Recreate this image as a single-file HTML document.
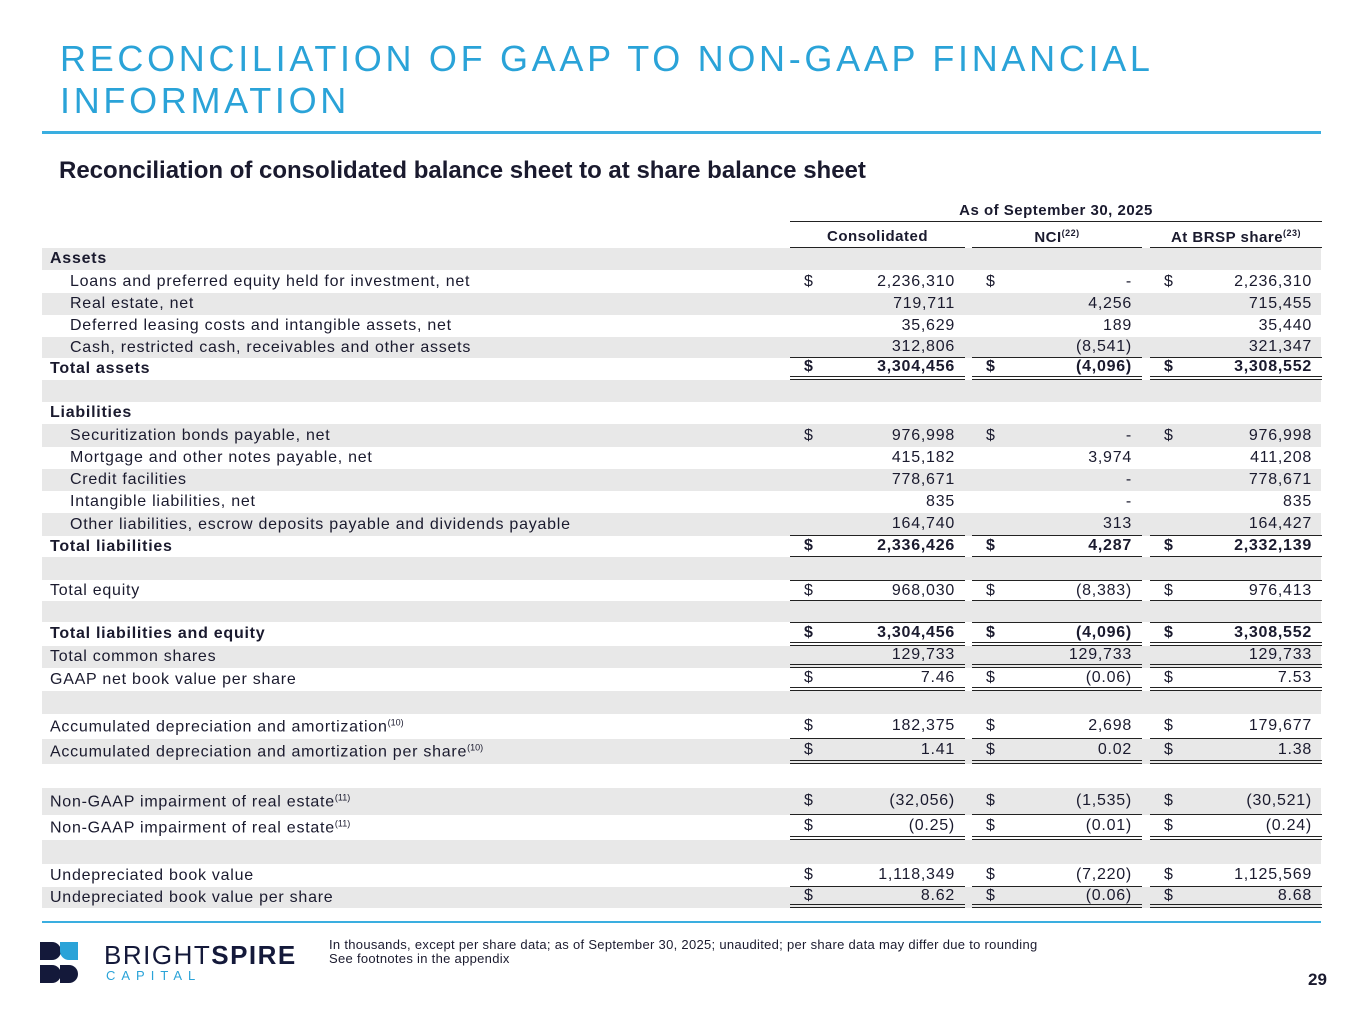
<!DOCTYPE html>
<html><head><meta charset="utf-8">
<style>
*{margin:0;padding:0;box-sizing:border-box}
body{width:1365px;height:1024px;background:#fff;font-family:"Liberation Sans",sans-serif;color:#1a1a2e;position:relative;overflow:hidden}
.title{position:absolute;left:60px;top:38px;font-size:36px;letter-spacing:3.7px;color:#2aa3d8;line-height:42px;font-weight:normal;white-space:nowrap}
.rule{position:absolute;left:42px;width:1279px;height:3px;background:#3aaee0}
.sub{position:absolute;left:59px;top:157px;font-size:24px;font-weight:bold;color:#1a1a2e;white-space:nowrap}
.row{position:absolute;left:42px;width:1279px;font-size:16px;letter-spacing:0.75px}
.row.g{background:#e8e8e8}
.lbl{position:absolute;top:50%;transform:translateY(-50%);white-space:nowrap}
.lbl sup{font-size:9px;letter-spacing:0}
.cell{position:absolute;top:0;height:100%}
.cell .d{position:absolute;left:14px;top:50%;transform:translateY(-50%)}
.cell .v{position:absolute;right:10px;top:50%;transform:translateY(-50%)}
.b{font-weight:bold}
.st{border-top:1.5px solid #222}
.sb{border-bottom:1.5px solid #222}
.db{border-bottom:4px double #222}
.hdr{position:absolute;font-size:15px;font-weight:bold;text-align:center;letter-spacing:0.5px}
.foot{position:absolute;left:329px;top:938px;font-size:13px;line-height:14px;letter-spacing:0.3px;white-space:nowrap}
</style></head><body>
<div class="title">RECONCILIATION OF GAAP TO NON-GAAP FINANCIAL<br>INFORMATION</div>
<div class="rule" style="top:131px"></div>
<div class="sub">Reconciliation of consolidated balance sheet to at share balance sheet</div>
<div class="hdr" style="left:790px;top:202px;width:532px;height:20px;border-bottom:1.5px solid #222">As of September 30, 2025</div>
<div class="hdr" style="left:790px;top:228px;width:175px;height:20px;border-bottom:1.5px solid #222">Consolidated</div>
<div class="hdr" style="left:972px;top:228px;width:170px;height:20px;border-bottom:1.5px solid #222">NCI<sup style="font-size:9px">(22)</sup></div>
<div class="hdr" style="left:1150px;top:228px;width:172px;height:20px;border-bottom:1.5px solid #222">At BRSP share<sup style="font-size:9px">(23)</sup></div>
<div id="tbl"></div>
<div class="rule" style="top:921px;height:2px"></div>
<div style="position:absolute;left:40px;top:942px;width:260px;height:45px">
<svg width="60" height="42" viewBox="0 0 60 42"><path d="M0 0h12a9 9 0 0 1 0 18H0z" fill="#14193a"/><path d="M20 0h18v18H29a9 9 0 0 1-9-9z" fill="#2aa3d8"/><path d="M0 23h12a9 9 0 0 1 0 18H0z" fill="#14193a"/><path d="M20 23h9a9 9 0 0 1 0 18h-9z" fill="#14193a"/></svg>
<div style="position:absolute;left:64px;top:-2px;font-size:26px;letter-spacing:1.5px;color:#14193a;white-space:nowrap">BRIGHT<b>SPIRE</b></div>
<div style="position:absolute;left:66px;top:26px;font-size:13px;letter-spacing:6px;color:#2aa3d8">CAPITAL</div>
</div>
<div class="foot">In thousands, except per share data; as of September 30, 2025; unaudited; per share data may differ due to rounding<br>See footnotes in the appendix</div>
<div style="position:absolute;left:1308px;top:970px;font-size:17px;font-weight:bold">29</div>
<script>
const rowLabels=["Assets","Loans and preferred equity held for investment, net","Real estate, net","Deferred leasing costs and intangible assets, net","Cash, restricted cash, receivables and other assets","Total assets","","Liabilities","Securitization bonds payable, net","Mortgage and other notes payable, net","Credit facilities","Intangible liabilities, net","Other liabilities, escrow deposits payable and dividends payable","Total liabilities","","Total equity","","Total liabilities and equity","Total common shares","GAAP net book value per share","","Accumulated depreciation and amortization<sup>(10)</sup>","Accumulated depreciation and amortization per share<sup>(10)</sup>","","Non-GAAP impairment of real estate<sup>(11)</sup>","Non-GAAP impairment of real estate<sup>(11)</sup>","","Undepreciated book value","Undepreciated book value per share"];
const consolidated=[null,"2,236,310","719,711","35,629","312,806","3,304,456",null,null,"976,998","415,182","778,671","835","164,740","2,336,426",null,"968,030",null,"3,304,456","129,733","7.46",null,"182,375","1.41",null,"(32,056)","(0.25)",null,"1,118,349","8.62"];
const nci=[null,"-","4,256","189","(8,541)","(4,096)",null,null,"-","3,974","-","-","313","4,287",null,"(8,383)",null,"(4,096)","129,733","(0.06)",null,"2,698","0.02",null,"(1,535)","(0.01)",null,"(7,220)","(0.06)"];
const brspShare=[null,"2,236,310","715,455","35,440","321,347","3,308,552",null,null,"976,998","411,208","778,671","835","164,427","2,332,139",null,"976,413",null,"3,308,552","129,733","7.53",null,"179,677","1.38",null,"(30,521)","(0.24)",null,"1,125,569","8.68"];
const bounds=[248,270,293,315,337,358,380,402,424,447,469,491,513,536,557,580,601,622,646,668,691,714,739,764,788,815,840,864,887,908];
const dollarRows=[1,5,8,13,15,17,19,21,22,24,25,27,28];
const boldRows=[0,5,7,13,17];
const indentRows=[1,2,3,4,8,9,10,11,12];
const lineTop={15:'st',17:'st'};
const lineBot={4:'sb',5:'db',12:'sb',13:'sb',15:'sb',17:'db',18:'db',19:'db',21:'sb',22:'db',24:'sb',25:'db',27:'sb',28:'db'};
const cols=[[790,175,consolidated],[972,170,nci],[1150,172,brspShare]];
const tbl=document.getElementById('tbl');
rowLabels.forEach((lab,i)=>{
  const r=document.createElement('div');
  
  
  r.className='row'+(i%2===0?' g':'')+(boldRows.includes(i)?' b':'');
  r.style.top=bounds[i]+'px';r.style.height=(bounds[i+1]-bounds[i])+'px';
  const l=document.createElement('div');
  
  
  l.className='lbl';l.style.left=(indentRows.includes(i)?28:8)+'px';l.innerHTML=lab;
  r.appendChild(l);
  cols.forEach(([x,w,arr])=>{
    const v=arr[i];
    const c=document.createElement('div');
    
    
    c.className='cell '+(lineTop[i]||'')+' '+(lineBot[i]||'');
    c.style.left=(x-42)+'px';c.style.width=w+'px';
    if(v!==null){
      c.innerHTML=(dollarRows.includes(i)?'<span class="d">$</span>':'')+'<span class="v">'+v+'</span>';
    }
    r.appendChild(c);
  });
  tbl.appendChild(r);
});
</script>
</body></html>
